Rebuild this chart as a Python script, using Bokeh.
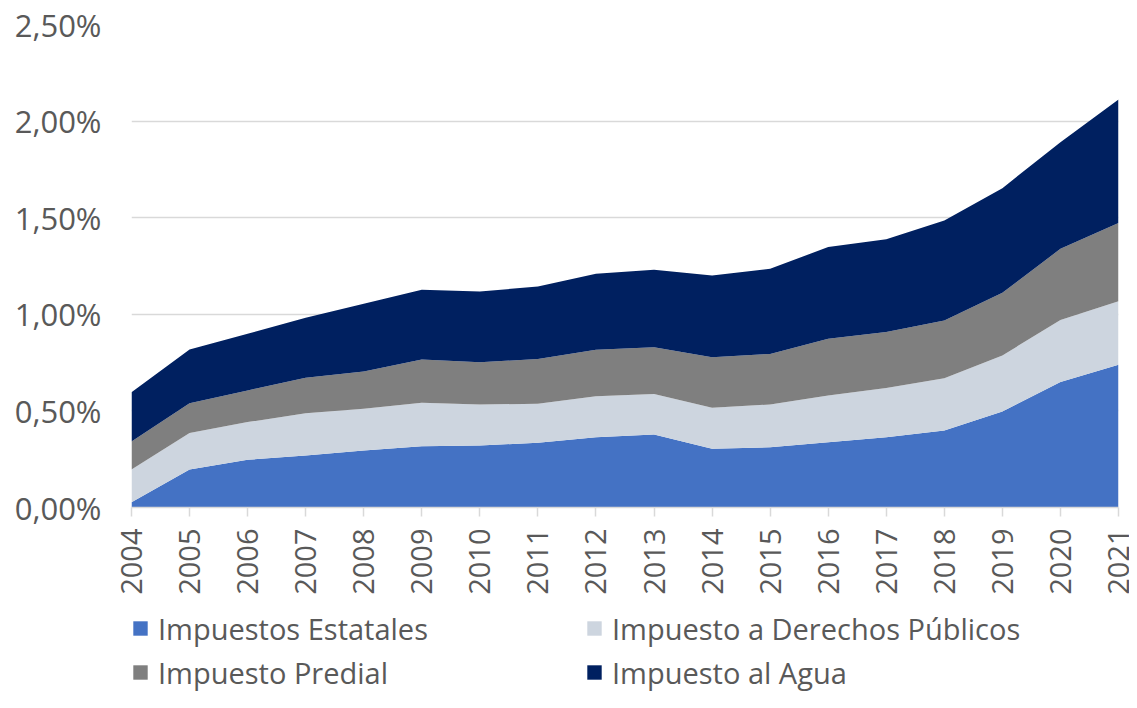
from math import pi
from bokeh.plotting import figure
from bokeh.layouts import column
from bokeh.models import (ColumnDataSource, Range1d, FixedTicker, CustomJSTickFormatter,
                          Legend, LegendItem)
from bokeh.embed import file_html
from bokeh.resources import INLINE

years = [2004, 2005, 2006, 2007, 2008, 2009, 2010, 2011, 2012,
         2013, 2014, 2015, 2016, 2017, 2018, 2019, 2020, 2021]
estatales = [0.027, 0.197, 0.247, 0.269, 0.295, 0.317, 0.321, 0.335, 0.364,
             0.378, 0.304, 0.312, 0.338, 0.364, 0.399, 0.497, 0.649, 0.739]
derechos = [0.170, 0.188, 0.195, 0.219, 0.216, 0.225, 0.212, 0.202, 0.212,
            0.210, 0.212, 0.221, 0.242, 0.255, 0.270, 0.290, 0.322, 0.329]
predial = [0.145, 0.155, 0.164, 0.183, 0.193, 0.224, 0.219, 0.231, 0.240,
           0.242, 0.262, 0.262, 0.293, 0.289, 0.299, 0.324, 0.368, 0.404]
agua = [0.255, 0.278, 0.293, 0.311, 0.350, 0.361, 0.366, 0.376, 0.394,
        0.401, 0.423, 0.441, 0.475, 0.481, 0.518, 0.542, 0.552, 0.640]

series_names = ["Impuestos Estatales", "Impuesto a Derechos Públicos",
                "Impuesto Predial", "Impuesto al Agua"]
colors = ["#4472C4", "#CDD5DF", "#7F7F7F", "#002060"]
y_ticks = [0, 0.5, 1.0, 1.5, 2.0, 2.5]
stackers = ["estatales", "derechos", "predial", "agua"]

source = ColumnDataSource(data=dict(year=years, estatales=estatales, derechos=derechos,
                                    predial=predial, agua=agua))

FONT = "Open Sans"
TXT = "#595959"
GRID = "#D9D9D9"
W = 1129
LEFT, RIGHT = 131, 11

# ---- main chart ----
p = figure(width=W, height=600, output_backend="svg", toolbar_location=None,
           x_range=Range1d(2004, 2021), y_range=Range1d(0, 2.5),
           min_border_left=LEFT, min_border_right=RIGHT, min_border_top=24,
           min_border_bottom=93)
p.outline_line_color = None
p.background_fill_color = "white"
p.border_fill_color = "white"

renderers = p.varea_stack(stackers=stackers, x="year", color=colors, source=source)

p.xgrid.visible = False
p.ygrid.grid_line_color = GRID
p.ygrid.grid_line_width = 1.5

p.yaxis.ticker = FixedTicker(ticks=y_ticks)
p.yaxis.formatter = CustomJSTickFormatter(code="return tick.toFixed(2).replace('.', ',') + '%';")
p.yaxis.axis_line_color = None
p.yaxis.major_tick_line_color = None
p.yaxis.minor_tick_line_color = None
p.yaxis.major_label_text_font = FONT
p.yaxis.major_label_text_font_size = "31px"
p.yaxis.major_label_text_color = TXT
p.yaxis.major_label_standoff = 24

p.xaxis.ticker = FixedTicker(ticks=years)
p.xaxis.axis_line_color = GRID
p.xaxis.axis_line_width = 1.5
p.xaxis.major_tick_line_color = GRID
p.xaxis.major_tick_line_width = 1.5
p.xaxis.major_tick_out = 9
p.xaxis.major_tick_in = 0
p.xaxis.minor_tick_line_color = None
p.xaxis.major_label_orientation = pi / 2
p.xaxis.major_label_standoff = 12
p.xaxis.major_label_text_font = FONT
p.xaxis.major_label_text_font_size = "29px"
p.xaxis.major_label_text_color = TXT

# ---- legend strip (same frame geometry, series drawn off-screen) ----
LH = 92
lf = figure(width=W, height=LH, output_backend="svg", toolbar_location=None,
            x_range=Range1d(0, 1), y_range=Range1d(0, 1),
            x_axis_type=None, y_axis_type=None,
            min_border_left=LEFT, min_border_right=RIGHT, min_border_top=0,
            min_border_bottom=0)
lf.outline_line_color = None
lf.xgrid.visible = False
lf.ygrid.visible = False
lf.border_fill_color = "white"
lf.background_fill_color = "white"

leg_renderers = lf.varea_stack(stackers=stackers, x="year", color=colors, source=source)


def make_legend(idx, loc):
    items = [LegendItem(label=series_names[i], renderers=[leg_renderers[i]]) for i in idx]
    return Legend(items=items, location=loc, orientation="vertical",
                  glyph_width=18, glyph_height=18, label_standoff=9,
                  label_text_font=FONT, label_text_font_size="29px",
                  label_text_color=TXT, spacing=0, label_height=44,
                  padding=0, margin=0, border_line_color=None,
                  background_fill_alpha=0)


lf.add_layout(make_legend([0, 2], (0, -2)), "center")
lf.add_layout(make_legend([1, 3], (454, -2)), "center")

layout = column(p, lf, spacing=0)
open("out.html", "w").write(file_html(layout, INLINE))
